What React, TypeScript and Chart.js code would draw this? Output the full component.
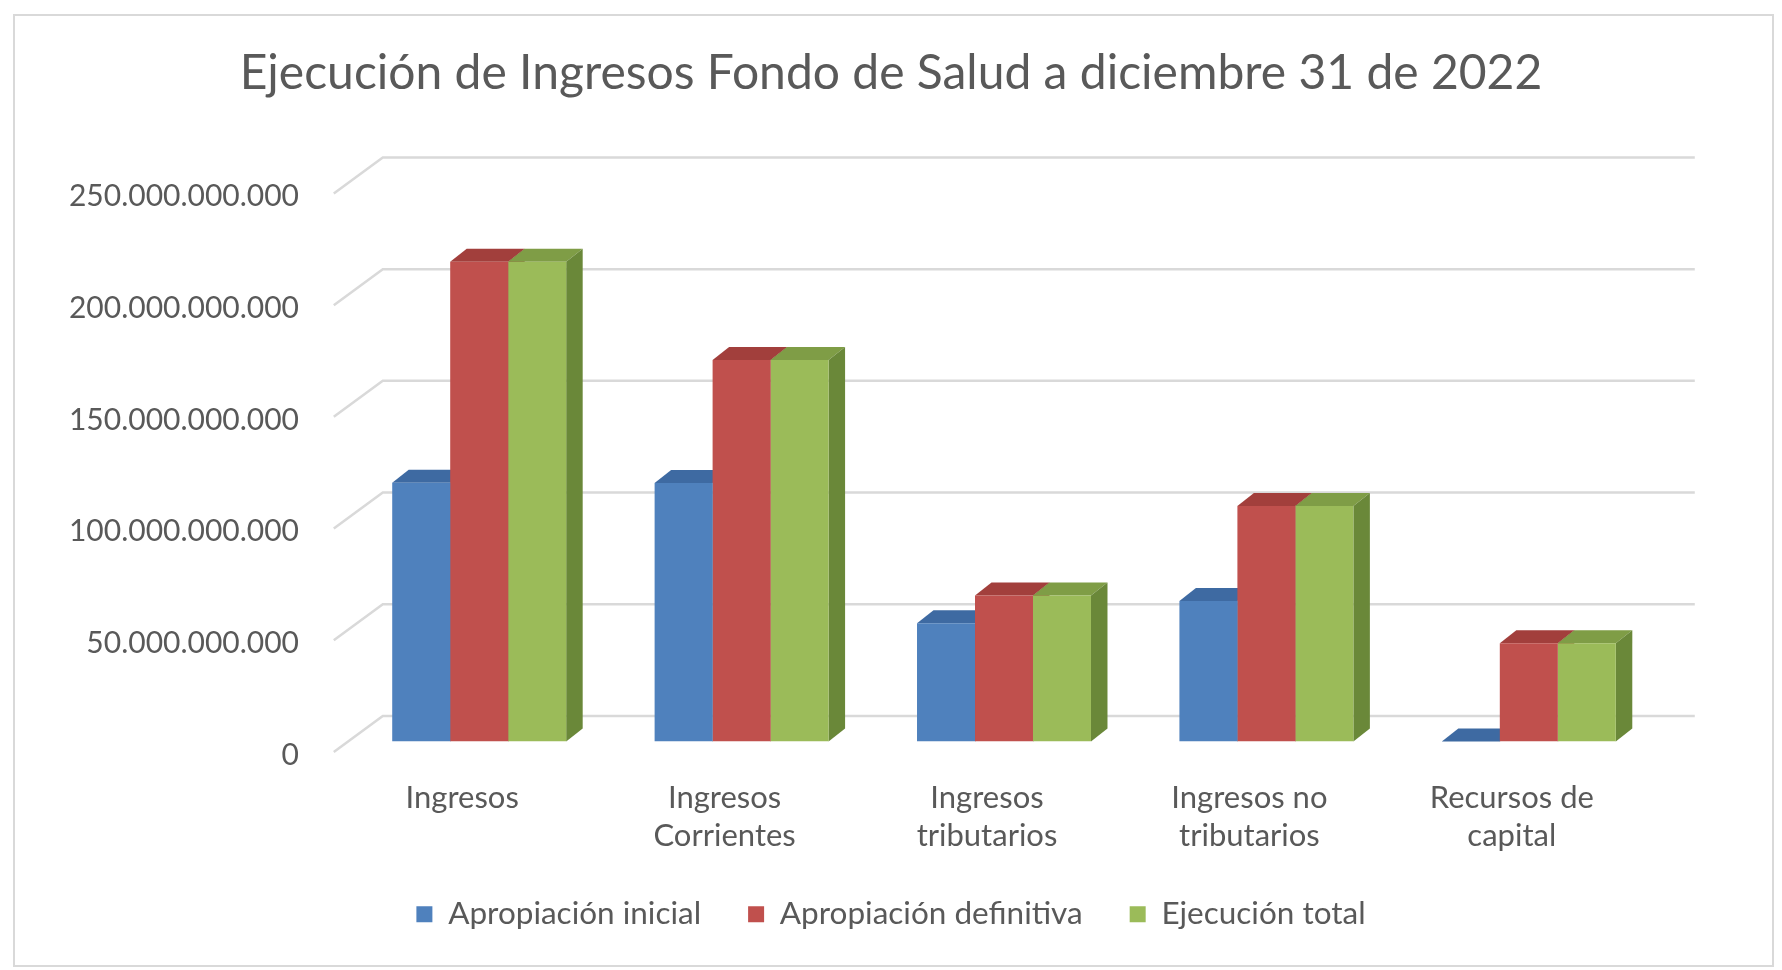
import React, { useEffect, useRef } from "react";
import { Chart, registerables } from "chart.js";

Chart.register(...registerables);

// ---------- data ----------
const categories: string[][] = [
  ["Ingresos"],
  ["Ingresos", "Corrientes"],
  ["Ingresos", "tributarios"],
  ["Ingresos no", "tributarios"],
  ["Recursos de", "capital"],
];
const seriesNames = ["Apropiación inicial", "Apropiación definitiva", "Ejecución total"];
const apropiacionInicial = [115.8e9, 115.7e9, 52.9e9, 62.9e9, 0];
const apropiacionDefinitiva = [214.8e9, 170.8e9, 65.4e9, 105.4e9, 44.0e9];
const ejecucionTotal = [214.8e9, 170.8e9, 65.4e9, 105.4e9, 44.0e9];
const yTicks = [0, 50e9, 100e9, 150e9, 200e9, 250e9];
const titleText = "Ejecución de Ingresos Fondo de Salud a diciembre 31 de 2022";

// ---------- style ----------
const W = 1782;
const H = 970;
const FONT = "Lato, 'DejaVu Sans', sans-serif";
const TEXT = "#595959";
const GRID = "#D9D9D9";
const frontColors = ["#4F81BD", "#C0504D", "#9BBB59"];
const topColors = ["#3E6AA2", "#A23F3C", "#7F9D46"];
const sideColors = ["#365E8F", "#8E3633", "#6A8839"];
// floor depth (front->back) and bar depth
const DX = 49;
const DY = 36;
const F = 0.29;
const BX = 16.5;
const BY = 13;

function fmt(v: number): string {
  return Math.round(v)
    .toString()
    .replace(/\B(?=(\d{3})+(?!\d))/g, ".");
}

const threeD = {
  id: "threeD",
  beforeDraw(chart: any) {
    const ctx = chart.ctx;
    ctx.save();
    ctx.fillStyle = "#ffffff";
    ctx.fillRect(0, 0, W, H);
    ctx.strokeStyle = GRID;
    ctx.lineWidth = 2;
    ctx.strokeRect(14, 15, 1759, 951);
    ctx.restore();
  },
  beforeDatasetsDraw(chart: any) {
    const { ctx, chartArea } = chart;
    const ys = chart.scales.y;
    const L = chartArea.left;
    const R = chartArea.right;
    ctx.save();
    ctx.strokeStyle = GRID;
    ctx.lineWidth = 2.5;
    for (const v of yTicks) {
      const py = ys.getPixelForValue(v);
      ctx.beginPath();
      ctx.moveTo(L - F * DX, py + F * DY);
      ctx.lineTo(L + (1 - F) * DX, py - (1 - F) * DY);
      ctx.lineTo(R + (1 - F) * DX, py - (1 - F) * DY);
      ctx.stroke();
    }
    const n = chart.data.labels.length;
    const nd = chart.data.datasets.length;
    for (let j = 0; j < n; j++) {
      for (let i = 0; i < nd; i++) {
        const el = chart.getDatasetMeta(i).data[j];
        if (!el) continue;
        const p = el.getProps(["x", "y", "base", "width"], true);
        const l = p.x - p.width / 2;
        const r = p.x + p.width / 2;
        const top = Math.min(p.y, p.base);
        const base = Math.max(p.y, p.base);
        // top face
        ctx.fillStyle = topColors[i];
        ctx.beginPath();
        ctx.moveTo(l, top);
        ctx.lineTo(r, top);
        ctx.lineTo(r + BX, top - BY);
        ctx.lineTo(l + BX, top - BY);
        ctx.closePath();
        ctx.fill();
        // side face
        ctx.fillStyle = sideColors[i];
        ctx.beginPath();
        ctx.moveTo(r, top);
        ctx.lineTo(r + BX, top - BY);
        ctx.lineTo(r + BX, base - BY);
        ctx.lineTo(r, base);
        ctx.closePath();
        ctx.fill();
      }
    }
    ctx.restore();
  },
};

export default function App() {
  const ref = useRef<HTMLCanvasElement>(null);
  useEffect(() => {
    const series = [apropiacionInicial, apropiacionDefinitiva, ejecucionTotal];
    const chart = new Chart(ref.current as HTMLCanvasElement, {
      type: "bar",
      data: {
        labels: categories as any,
        datasets: series.map((d, i) => ({
          label: seriesNames[i],
          data: d,
          backgroundColor: frontColors[i],
          borderWidth: 0,
          categoryPercentage: 0.663,
          barPercentage: 1,
        })),
      },
      options: {
        responsive: false,
        animation: false,
        devicePixelRatio: 1,
        events: [],
        layout: { padding: { top: 0, left: 0, right: 0, bottom: 30 } },
        plugins: {
          tooltip: { enabled: false },
          title: {
            display: true,
            text: titleText,
            color: TEXT,
            font: { family: FONT, size: 48, weight: "normal", lineHeight: 1 },
            padding: { top: 50, bottom: 85 },
          },
          legend: {
            display: true,
            position: "bottom",
            labels: {
              boxWidth: 16,
              boxHeight: 16,
              padding: 47,
              color: TEXT,
              font: { family: FONT, size: 31.5 },
            },
          },
        },
        scales: {
          x: {
            type: "category",
            grid: { display: false, drawTicks: false },
            border: { display: false },
            ticks: {
              color: TEXT,
              font: { family: FONT, size: 31, lineHeight: 1.21 },
              padding: 38,
              labelOffset: -17,
              autoSkip: false,
              maxRotation: 0,
              minRotation: 0,
            },
            afterFit: (s: any) => {
              s.height = 110;
            },
          },
          y: {
            type: "linear",
            position: "left",
            min: 0,
            max: 250e9,
            grid: { display: false, drawTicks: false },
            border: { display: false },
            ticks: {
              color: TEXT,
              font: { family: FONT, size: 30 },
              padding: 49,
              labelOffset: 13.5,
              callback: (v: any) => fmt(Number(v)),
            },
            afterBuildTicks: (s: any) => {
              s.ticks = yTicks.map((v) => ({ value: v }));
            },
            afterFit: (s: any) => {
              s.width = 348;
            },
          },
          yRight: {
            type: "linear",
            position: "right",
            display: true,
            grid: { display: false, drawTicks: false },
            border: { display: false },
            ticks: { display: false },
            afterFit: (s: any) => {
              s.width = 122;
            },
          },
        },
      } as any,
      plugins: [threeD],
    });
    return () => chart.destroy();
  }, []);
  return (
    <div style={{ position: "absolute", left: 0, top: 0, width: W, height: H, background: "#fff" }}>
      <canvas ref={ref} width={W} height={H} style={{ width: W, height: H, display: "block" }} />
    </div>
  );
}
